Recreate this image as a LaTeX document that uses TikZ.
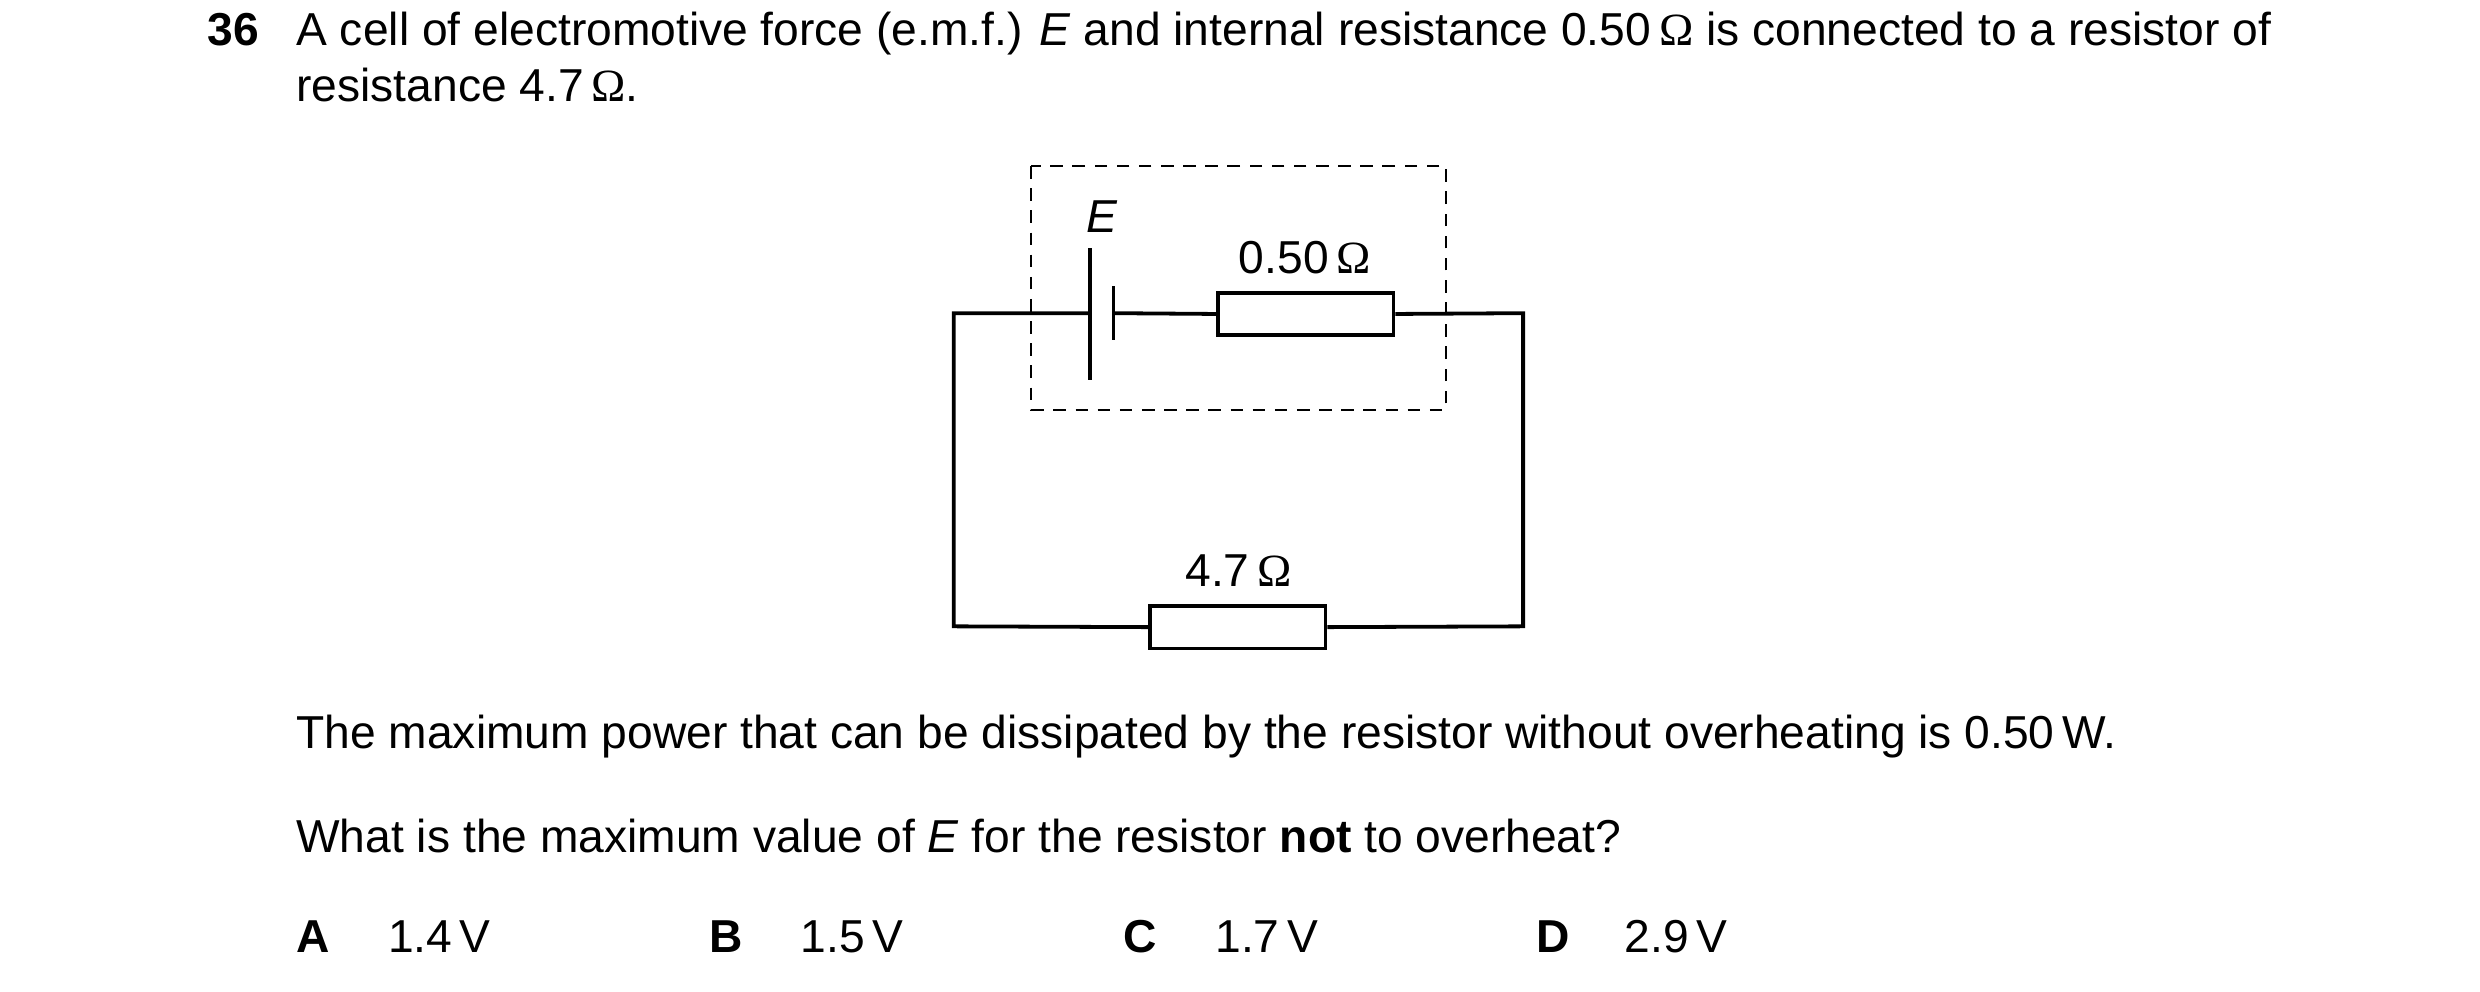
\documentclass[tikz,border=0pt]{standalone}
\usepackage{fontspec}
\setmainfont{Liberation Sans}
\newfontfamily\omfont{Liberation Serif}
\newcommand{\OM}{\,{\omfont Ω}}
\begin{document}
\begin{tikzpicture}[x=0.5pt,y=-0.5pt,font=\fontsize{14.6}{17}\selectfont,
  txt/.style={anchor=base west,inner sep=0pt},
  lbl/.style={inner sep=0pt},
  wire/.style={line width=1.2pt},
  res/.style={draw,line width=1.2pt,minimum width=55.5pt,minimum height=13.5pt,inner sep=0pt}]
\useasboundingbox (0,0) rectangle (1568,627);
\node[txt] (q) at (131,29) {\textbf{36}};
\node[txt] (l1) at (187,29) {A cell of electromotive force (e.m.f.) \textit{E} and internal resistance 0.50\OM{} is connected to a resistor of};
\node[txt] (l2) at (187,64) {resistance 4.7\OM.};
\draw[line width=0.6pt,dash pattern=on 4pt off 3pt] (652,105) rectangle (914,259);
\node[res] (r1) at (825.5,198.5) {};
\node[res] (r2) at (782.5,396.5) {};
\coordinate (pl) at (689,198);
\coordinate (ps) at (704,198);
\draw[wire] (689,157) -- (689,240);
\draw[wire] (704,181) -- (704,215);
\draw[wire] (ps) -- (r1.west);
\draw[wire] (r1.east) -- (963,198) -- (963,396) -- (r2.east);
\draw[wire] (r2.west) -- (603,396) -- (603,198) -- (pl);
\node[lbl] (e) at (697,137) {\textit{E}};
\node[lbl] (t1) at (825,163) {0.50\OM};
\node[lbl] (t2) at (783,361) {4.7\OM};
\node[txt] (p1) at (187,473) {The maximum power that can be dissipated by the resistor without overheating is 0.50\,W.};
\node[txt] (p2) at (187,539) {What is the maximum value of \textit{E} for the resistor \textbf{not} to overheat?};
\node[txt] (a) at (187,602) {\textbf{A}};
\node[txt] (av) at (245,602) {1.4\,V};
\node[txt] (b) at (448,602) {\textbf{B}};
\node[txt] (bv) at (506,602) {1.5\,V};
\node[txt] (c) at (710,602) {\textbf{C}};
\node[txt] (cv) at (768,602) {1.7\,V};
\node[txt] (d) at (971,602) {\textbf{D}};
\node[txt] (dv) at (1027,602) {2.9\,V};
\end{tikzpicture}
\end{document}
